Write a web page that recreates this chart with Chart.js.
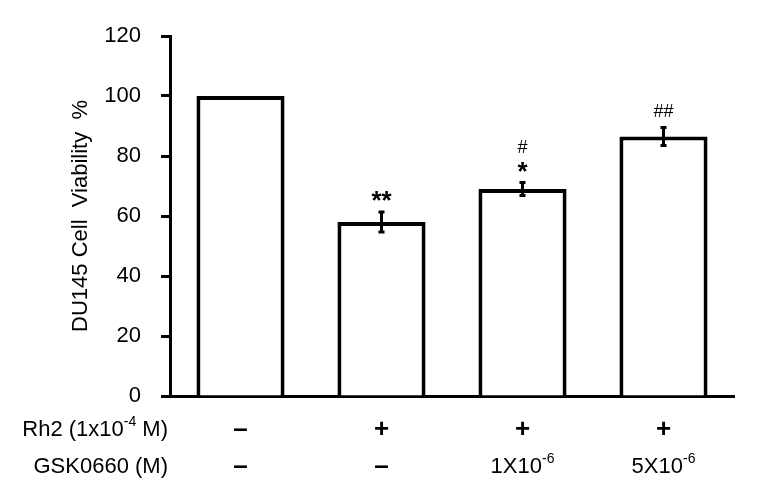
<!DOCTYPE html>
<html>
<head>
<meta charset="utf-8">
<script src="https://cdn.jsdelivr.net/npm/chart.js@4"></script>
<style>
  html, body { margin: 0; padding: 0; background: #fff; }
  #wrap { width: 762px; height: 500px; }
</style>
</head>
<body>
<div id="wrap"><canvas id="chart" width="762" height="500"></canvas></div>
<script>
// Data
var groups = ['Control', 'Rh2', 'Rh2 + GSK 1e-6', 'Rh2 + GSK 5e-6'];
var viability = [100, 58, 69, 86.5];
var errors = [0, 3.3, 2.2, 3];
var starMarks = ['', '**', '*', ''];
var hashMarks = ['', '', '#', '##'];
var rowTitles = ['Rh2 (1x10\u207B\u2074 M)', 'GSK0660 (M)'];
var rh2Row = ['\u2013', '+', '+', '+'];
var gskRow = ['\u2013', '\u2013', '1X10\u207B\u2076', '5X10\u207B\u2076'];
var yTicks = [0, 20, 40, 60, 80, 100, 120];

var FONT = '"Liberation Sans", Arial, sans-serif';

// superscript characters -> plain, so they can be drawn small and raised
var SUP = { '\u207B': '-', '\u2074': '4', '\u2076': '6' };

// split text into normal / superscript runs
function runs(text) {
    var out = [];
    for (var k = 0; k < text.length; k++) {
        var ch = text[k];
        var sup = SUP.hasOwnProperty(ch);
        var c = sup ? SUP[ch] : ch;
        if (out.length && out[out.length - 1].sup === sup) {
            out[out.length - 1].t += c;
        } else {
            out.push({ t: c, sup: sup });
        }
    }
    return out;
}

// draws text with raised superscripts; align 'left' | 'center' | 'right'
function drawRich(ctx, text, x, y, size, align) {
    var parts = runs(text);
    var supSize = Math.round(size * 0.62);
    var total = 0;
    parts.forEach(function(p) {
        ctx.font = (p.sup ? supSize : size) + 'px ' + FONT;
        p.w = ctx.measureText(p.t).width;
        total += p.w;
    });
    var cx = x;
    if (align === 'center') cx = x - total / 2;
    if (align === 'right') cx = x - total;
    ctx.textAlign = 'left';
    parts.forEach(function(p) {
        ctx.font = (p.sup ? supSize : size) + 'px ' + FONT;
        ctx.fillText(p.t, cx, p.sup ? y - size * 0.36 : y);
        cx += p.w;
    });
}

// error bars + significance marks
var errorBars = {
    id: 'errorBars',
    afterDatasetsDraw: function(chart) {
        var ctx = chart.ctx;
        var x = chart.scales.x, y = chart.scales.y;
        ctx.save();
        ctx.strokeStyle = '#000';
        ctx.fillStyle = '#000';
        ctx.lineWidth = 3;
        viability.forEach(function(v, i) {
            var cx = x.getPixelForValue(i);
            var top = y.getPixelForValue(v + errors[i]);
            var bot = y.getPixelForValue(v - errors[i]);
            if (errors[i] > 0) {
                ctx.beginPath();
                ctx.moveTo(cx, top); ctx.lineTo(cx, bot);
                ctx.moveTo(cx - 3, top); ctx.lineTo(cx + 3, top);
                ctx.moveTo(cx - 3, bot); ctx.lineTo(cx + 3, bot);
                ctx.stroke();
            }
            ctx.textAlign = 'center';
            ctx.textBaseline = 'middle';
            var level = top - 15;
            if (starMarks[i]) {
                ctx.font = 'bold 26px ' + FONT;
                ctx.fillText(starMarks[i], cx, level + 5);
                level -= 19;
            }
            if (hashMarks[i]) {
                ctx.font = '18px ' + FONT;
                ctx.fillText(hashMarks[i], cx, level);
            }
        });
        ctx.restore();
    }
};

// treatment table under the x axis
var treatmentRows = {
    id: 'treatmentRows',
    afterDraw: function(chart) {
        var ctx = chart.ctx;
        var x = chart.scales.x;
        var base = chart.chartArea.bottom;
        var rows = [rh2Row, gskRow];
        var offsets = [34, 71];
        ctx.save();
        ctx.fillStyle = '#000';
        ctx.textBaseline = 'middle';
        rows.forEach(function(row, r) {
            var yy = base + offsets[r];
            drawRich(ctx, rowTitles[r], chart.chartArea.left - 2, yy, 22, 'right');
            row.forEach(function(txt, i) {
                var cx = x.getPixelForValue(i);
                if (txt === '+' || txt === '\u2013') {
                    ctx.textAlign = 'center';
                    ctx.font = 'bold 26px ' + FONT;
                    ctx.fillText(txt, cx, yy);
                } else {
                    drawRich(ctx, txt, cx, yy, 22, 'center');
                }
            });
        });
        ctx.restore();
    }
};

var ctx = document.getElementById('chart').getContext('2d');
var chart = new Chart(ctx, {
    type: 'bar',
    data: {
        labels: groups,
        datasets: [{
            data: viability,
            backgroundColor: '#fff',
            borderColor: '#000',
            borderWidth: 4,
            barPercentage: 0.625,
            categoryPercentage: 1
        }]
    },
    options: {
        responsive: false,
        animation: false,
        layout: { padding: { top: 36, right: 28, bottom: 0, left: 0 } },
        plugins: {
            legend: { display: false },
            tooltip: { enabled: false }
        },
        scales: {
            x: {
                grid: { display: false },
                border: { color: '#000', width: 3 },
                ticks: { display: false },
                afterFit: function(scale) { scale.height = 104; }
            },
            y: {
                min: 0,
                max: 120,
                afterBuildTicks: function(scale) {
                    scale.ticks = yTicks.map(function(v) { return { value: v }; });
                },
                grid: {
                    drawOnChartArea: false,
                    drawTicks: true,
                    tickLength: 9,
                    tickColor: '#000',
                    tickWidth: 3
                },
                border: { color: '#000', width: 3 },
                ticks: {
                    color: '#000',
                    padding: 20,
                    font: { family: FONT, size: 22 }
                },
                title: {
                    display: true,
                    text: 'DU145 Cell  Viability  %',
                    color: '#000',
                    padding: { top: 68, bottom: 0 },
                    font: { family: FONT, size: 22 }
                },
                afterFit: function(scale) { scale.width = 170; }
            }
        }
    },
    plugins: [errorBars, treatmentRows]
});
</script>
</body>
</html>
